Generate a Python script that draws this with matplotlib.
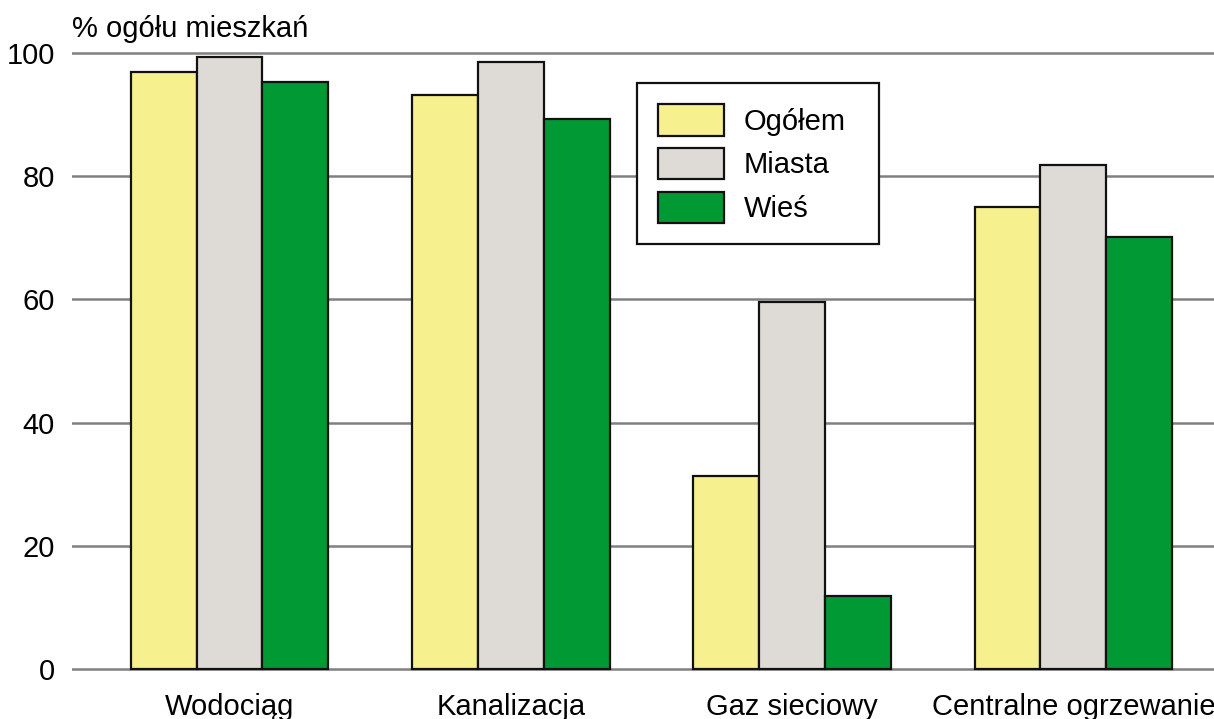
import numpy as np
import matplotlib as mpl
import matplotlib.pyplot as plt

mpl.rcParams['font.family'] = ['Liberation Sans', 'DejaVu Sans']

categories = ["Wodociąg", "Kanalizacja", "Gaz sieciowy", "Centralne ogrzewanie"]
series_names = ["Ogółem", "Miasta", "Wieś"]
ogolem = [96.9, 93.1, 31.3, 75.0]
miasta = [99.4, 98.5, 59.5, 81.8]
wies = [95.3, 89.2, 11.9, 70.2]
yticks = [0, 20, 40, 60, 80, 100]

colors = ["#F7F08F", "#DEDBD7", "#009933"]

fig = plt.figure(figsize=(12.14, 7.19), dpi=100)
ax = fig.add_axes([0.0593, 0.0668, 0.9407, 0.8622])

x = np.arange(len(categories))
width = 0.234
for i, (vals, name) in enumerate(zip([ogolem, miasta, wies], series_names)):
    ax.bar(x + (i - 1) * width, vals, width, color=colors[i], edgecolor="#111111",
           linewidth=1.6, label=name, zorder=3)

ax.set_xlim(-0.56, 3.5)
ax.set_ylim(-0.3, 100.3)
ax.set_yticks(yticks)
ax.yaxis.grid(True, color="#808080", linewidth=1.8, zorder=0)
ax.set_axisbelow(True)
for s in ax.spines.values():
    s.set_visible(False)
ax.tick_params(axis="both", length=0, labelsize=21)
ax.tick_params(axis="y", pad=12.5)
ax.tick_params(axis="x", pad=16)
ax.set_xticks(x)
ax.set_xticklabels(categories)

fig.text(0.0593, 0.96, "% ogółu mieszkań", fontsize=21, ha="left", va="center")

# legend box spans the given width (mode expand)
leg = ax.legend(loc="upper left", bbox_to_anchor=(0.4947, 0.5, 0.2119, 0.448),
                mode="expand", fontsize=21,
                handlelength=2.26, handleheight=1.27, handletextpad=0.67,
                labelspacing=0.42, borderpad=0.72, borderaxespad=0,
                fancybox=False, framealpha=1, edgecolor="#111111")
leg.get_frame().set_linewidth(1.6)
leg.set_zorder(5)

fig.savefig("out.png", dpi=100)
